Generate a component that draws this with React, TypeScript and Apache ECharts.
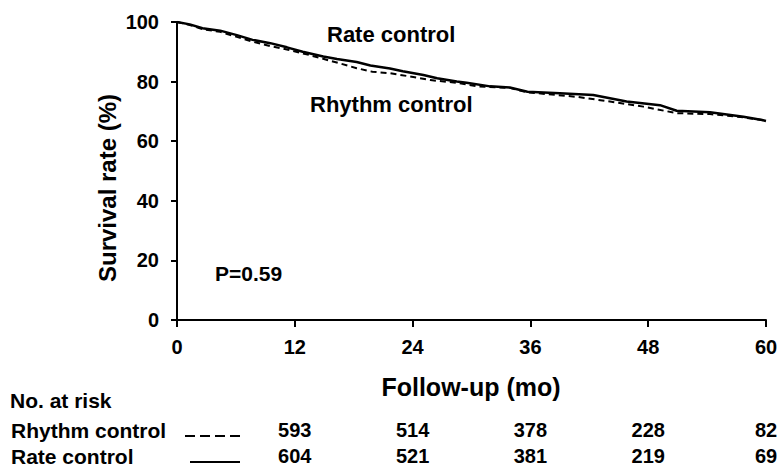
import React, { useEffect, useRef } from "react";
import * as echarts from "echarts";

const months = [0, 12, 24, 36, 48, 60];
const yTicks = [0, 20, 40, 60, 80, 100];

const rateMonths = [0, 1.3, 2.6, 4.4, 6.1, 7.7, 9.5, 11.2, 12.8, 14.9, 16.3, 18.3, 19.7, 21.7, 23.0, 25.1, 26.5, 28.5, 29.5, 31.9, 33.9, 35.7, 39.0, 42.4, 45.8, 49.2, 50.9, 54.3, 57.7, 59.6, 60];
const rateValues = [100, 99.2, 97.9, 97.1, 95.6, 94.0, 92.9, 91.5, 90.0, 88.4, 87.6, 86.6, 85.4, 84.4, 83.5, 82.2, 81.1, 80.0, 79.6, 78.4, 78.0, 76.6, 76.1, 75.5, 73.3, 72.1, 70.2, 69.7, 68.2, 67.1, 66.8];

const rhythmMonths = [0, 1.3, 2.6, 4.4, 7.7, 9.5, 11.2, 13.5, 16.6, 18.3, 19.9, 21.7, 23.4, 25.8, 28.5, 30.6, 33.9, 35.7, 40.7, 44.1, 47.5, 50.9, 54.3, 57.7, 59.6, 60];
const rhythmValues = [100, 99.0, 97.6, 96.7, 93.4, 91.9, 90.8, 88.9, 86.1, 84.5, 83.3, 82.8, 81.9, 80.5, 79.6, 78.4, 77.9, 76.4, 74.9, 73.3, 71.6, 69.4, 69.1, 68.0, 67.1, 66.8];

const riskRhythm = [593, 514, 378, 228, 82];
const riskRate = [604, 521, 381, 219, 69];
const riskMonths = [12, 24, 36, 48, 60];

const FONT = "'Liberation Sans', Arial, Helvetica, sans-serif";

export default function App() {
  const ref = useRef<HTMLDivElement>(null);
  useEffect(() => {
    if (!ref.current) return;
    const chart = echarts.init(ref.current, undefined, { renderer: "svg" });
    const axisLabel = { color: "#000", fontFamily: FONT, fontWeight: "bold" as const, fontSize: 20 };
    chart.setOption({
      animation: false,
      backgroundColor: "#fff",
      grid: { left: 177, right: 16, top: 22, bottom: 148, containLabel: false },
      xAxis: {
        type: "value",
        min: 0,
        max: 60,
        interval: 12,
        splitLine: { show: false },
        axisLine: { show: true, onZero: false, lineStyle: { color: "#000", width: 2 } },
        axisTick: { show: true, length: 7, lineStyle: { color: "#000", width: 2 } },
        axisLabel: { ...axisLabel, margin: 17, formatter: (v: number) => (months.includes(v) ? String(v) : "") },
      },
      yAxis: {
        type: "value",
        min: 0,
        max: 100,
        interval: 20,
        splitLine: { show: false },
        axisLine: { show: true, onZero: false, lineStyle: { color: "#000", width: 2 } },
        axisTick: { show: true, length: 6, lineStyle: { color: "#000", width: 2 } },
        axisLabel: { ...axisLabel, margin: 18, formatter: (v: number) => (yTicks.includes(v) ? String(v) : "") },
      },
      series: [
        {
          type: "line",
          name: "Rhythm control",
          symbol: "none",
          data: rhythmMonths.map((m, i) => [m, rhythmValues[i]]),
          lineStyle: { color: "#000", width: 2, type: [6, 4] },
          z: 2,
        },
        {
          type: "line",
          name: "Rate control",
          symbol: "none",
          data: rateMonths.map((m, i) => [m, rateValues[i]]),
          lineStyle: { color: "#000", width: 2.5 },
          z: 3,
        },
      ],
    });

    const px = (m: number) => (chart.convertToPixel({ xAxisIndex: 0 }, m) as number);
    const txt = (text: string, x: number, y: number, size: number, align = "left", extra: any = {}) => ({
      type: "text",
      x,
      y,
      ...extra,
      style: { text, fill: "#000", font: `bold ${size}px ${FONT}`, textAlign: align, textVerticalAlign: "middle" },
    });
    const graphics: any[] = [
      txt("Rate control", 327, 34, 22),
      txt("Rhythm control", 310, 104, 22),
      txt("P=0.59", 215, 273, 21),
      txt("Follow-up (mo)", 471, 387, 25, "center"),
      txt("Survival rate (%)", 107, 188, 24, "center", { rotation: Math.PI / 2 }),
      txt("No. at risk", 10, 400, 21),
      txt("Rhythm control", 11, 430, 21),
      txt("Rate control", 11, 456, 21),
      {
        type: "line",
        shape: { x1: 185, y1: 436, x2: 240, y2: 436 },
        style: { stroke: "#000", lineWidth: 2, lineDash: [10, 5] },
      },
      {
        type: "line",
        shape: { x1: 190, y1: 462, x2: 240, y2: 462 },
        style: { stroke: "#000", lineWidth: 2 },
      },
    ];
    riskMonths.forEach((m, i) => {
      graphics.push(txt(String(riskRhythm[i]), px(m), 430, 20, "center"));
      graphics.push(txt(String(riskRate[i]), px(m), 456, 20, "center"));
    });
    chart.setOption({ graphic: graphics });
    return () => chart.dispose();
  }, []);
  return <div ref={ref} style={{ width: 782, height: 468, position: "absolute", left: 0, top: 0 }} />;
}
